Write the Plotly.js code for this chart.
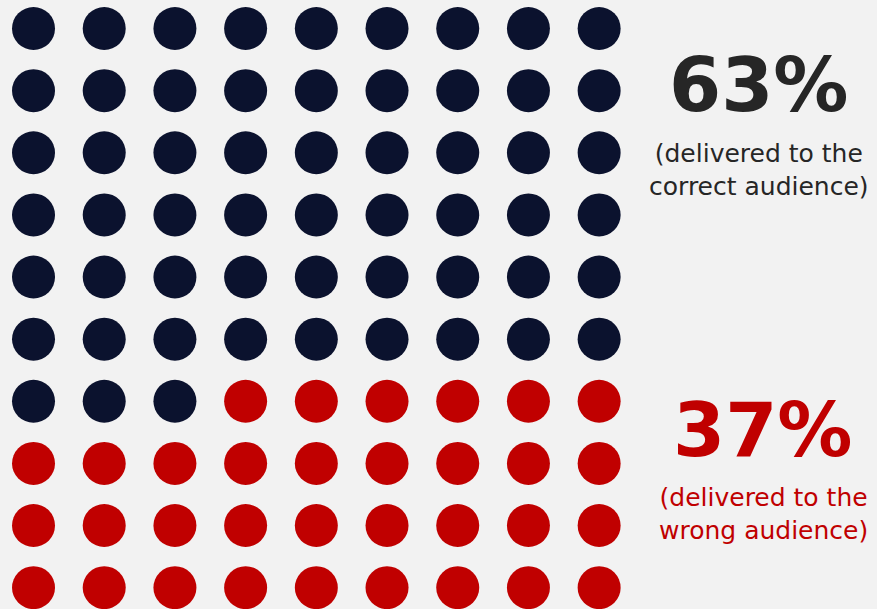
<!DOCTYPE html>
<html>
<head>
<meta charset="utf-8">
<script src="https://cdn.plot.ly/plotly-3.0.1.min.js"></script>
<style>
  html, body { margin: 0; padding: 0; background: #f2f2f2; }
  #dots { width: 877px; height: 609px; }
</style>
</head>
<body>
<div id="dots"></div>
<script>
// 90 dots in a 9 x 10 grid, filled in reading order
var groups = ["correct audience", "wrong audience"];
var dotCounts = [57, 33];
var percentLabels = ["63%", "37%"];
var subLabels = ["(delivered to the<br>correct audience)", "(delivered to the<br>wrong audience)"];
var groupColors = ["#0b122e", "#c00000"];
var nCols = 9;

// build one trace per group from the counts
var data = [];
var idx = 0;
for (var g = 0; g < groups.length; g++) {
    var xs = [], ys = [];
    for (var k = 0; k < dotCounts[g]; k++) {
        xs.push(idx % nCols + 1);
        ys.push(Math.floor(idx / nCols) + 1);
        idx++;
    }
    data.push({
        x: xs,
        y: ys,
        name: groups[g],
        type: "scatter",
        mode: "markers",
        marker: {size: 43, color: groupColors[g]},
        hoverinfo: "skip"
    });
}

var font = "DejaVu Sans, Verdana, sans-serif";
var layout = {
    width: 877,
    height: 609,
    margin: {l: 0, r: 0, t: 0, b: 0},
    paper_bgcolor: "#f2f2f2",
    plot_bgcolor: "#f2f2f2",
    showlegend: false,
    xaxis: {range: [0.526, 12.93], visible: false, fixedrange: true},
    yaxis: {range: [10.344, 0.541], visible: false, fixedrange: true},
    annotations: [
        {xref: "paper", yref: "paper", x: 759 / 877, y: 1 - 85 / 609, xanchor: "center", yanchor: "middle",
         text: "<b>" + percentLabels[0] + "</b>", showarrow: false,
         font: {family: font, size: 75, color: "#262626"}},
        {xref: "paper", yref: "paper", x: 759 / 877, y: 1 - 170 / 609, xanchor: "center", yanchor: "middle",
         text: subLabels[0], showarrow: false,
         font: {family: font, size: 25, color: "#262626"}},
        {xref: "paper", yref: "paper", x: 763 / 877, y: 1 - 430 / 609, xanchor: "center", yanchor: "middle",
         text: "<b>" + percentLabels[1] + "</b>", showarrow: false,
         font: {family: font, size: 75, color: "#c00000"}},
        {xref: "paper", yref: "paper", x: 763 / 877, y: 1 - 514 / 609, xanchor: "center", yanchor: "middle",
         text: subLabels[1], showarrow: false,
         font: {family: font, size: 25, color: "#c00000"}}
    ]
};

Plotly.newPlot("dots", data, layout, {displayModeBar: false, staticPlot: true});
</script>
</body>
</html>
